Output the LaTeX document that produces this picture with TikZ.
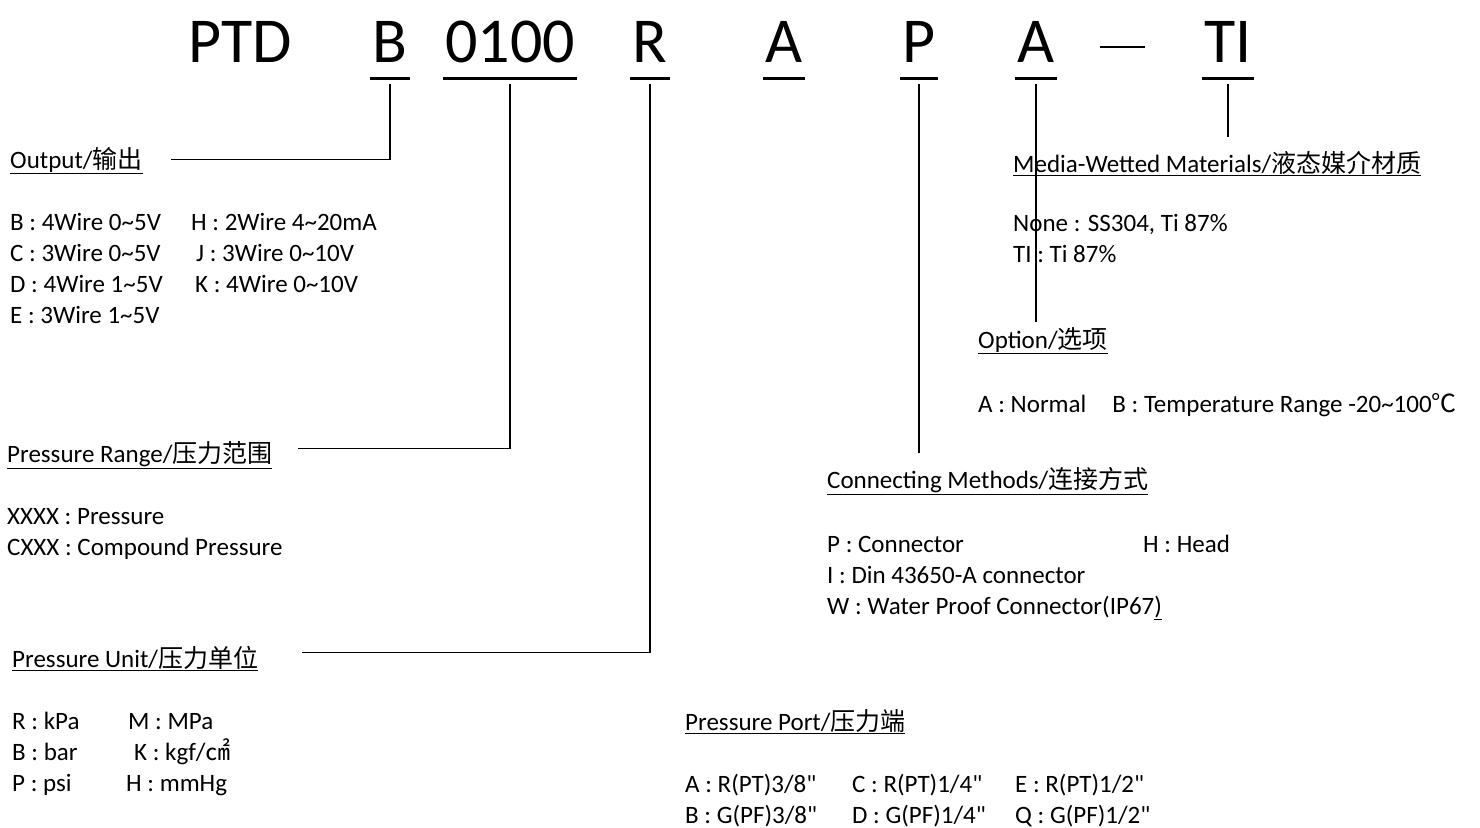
\documentclass[tikz,border=0pt]{standalone}
\usepackage{fontspec}
\setmainfont{Carlito}[Ligatures=TeXOff]
\newfontfamily\cjk{Noto Sans CJK SC}
\usetikzlibrary{positioning,calc}
\newcommand{\tld}{\textasciitilde}

\tikzset{
    code/.style={font=\fontsize{64}{64}\selectfont, anchor=base, inner xsep=2pt, inner ysep=0pt},
    ttl/.style={font=\fontsize{25}{31}\selectfont, anchor=base west, inner sep=0pt},
    txt/.style={font=\fontsize{25}{31}\selectfont, anchor=base west, inner sep=0pt, align=left},
    bar/.style={line width=3pt},
    lead/.style={line width=1.6pt},
}

\begin{document}
\begin{tikzpicture}[x=1pt,y=-1pt]
    \useasboundingbox (0,0) rectangle (1480,827);

    % Model code
    \node[code] (ptd)  at (240,62)  {PTD};
    \node[code] (out)  at (390,62)  {B};
    \node[code] (rng)  at (510,62)  {0100};
    \node[code] (unit) at (650,62)  {R};
    \node[code] (port) at (784,62)  {A};
    \node[code] (conn) at (919,62)  {P};
    \node[code] (opt)  at (1036,62) {A};
    \node[code] (mat)  at (1228,62) {TI};
    \coordinate (dl) at (1100,47);
    \coordinate (dr) at (1145,47);
    \draw[line width=2pt] (dl) -- (dr);

    % Underlines
    \foreach \n in {out,rng,unit,port,conn,opt,mat} {
        \draw[bar] ([yshift=-16pt]\n.base west) -- ([yshift=-16pt]\n.base east);
    }

    % Output (multi-line nodes sit on their last line)
    \node[ttl] (outt) at (10,168) {\underline{Output/{\cjk 输出}}};
    \node[txt] (outa) at (10,323) {B : 4Wire 0\tld5V\\C : 3Wire 0\tld5V\\D : 4Wire 1\tld5V\\E : 3Wire 1\tld5V};
    \node[txt] (outb) at (191,292) {H : 2Wire 4\tld20mA\\\hspace*{5pt}J : 3Wire 0\tld10V\\\hspace*{4pt}K : 4Wire 0\tld10V};

    % Pressure range
    \node[ttl] (rngt) at (7,462) {\underline{Pressure Range/{\cjk 压力范围}}};
    \node[txt] (rnga) at (7,555) {XXXX : Pressure\\CXXX : Compound Pressure};

    % Pressure unit
    \node[ttl] (unitt) at (12,667) {\underline{Pressure Unit/{\cjk 压力单位}}};
    \node[txt] (unita) at (12,791) {R : kPa\\B : bar\\P : psi};
    \node[txt] (unitb) at (128,791) {M : MPa\\\hspace*{6pt}K : kgf/{\cjk ㎠}\\\hspace*{-2pt}H : mmHg};

    % Pressure port
    \node[ttl] (portt) at (685,730) {\underline{Pressure Port/{\cjk 压力端}}};
    \node[txt] (porta) at (685,823) {A : R(PT)3/8"\\B : G(PF)3/8"};
    \node[txt] (portb) at (852,823) {C : R(PT)1/4"\\D : G(PF)1/4"};
    \node[txt] (portc) at (1015,823) {E : R(PT)1/2"\\Q : G(PF)1/2"};

    % Connecting methods
    \node[ttl] (connt) at (827,488) {\underline{Connecting Methods/{\cjk 连接方式}}};
    \node[txt] (conna) at (827,614) {P : Connector\\I : Din 43650-A connector\\W : Water Proof Connector(IP67\underline{)}};
    \node[txt] (connb) at (1143,552) {H : Head};

    % Option
    \node[ttl] (optt) at (978,348) {\underline{Option/{\cjk 选项}}};
    \node[txt] (opta) at (978,412) {A : Normal\hspace{26pt}B : Temperature Range -20\tld100{\cjk ℃}};

    % Media-wetted materials
    \node[ttl] (matt) at (1013,172) {\underline{Media-Wetted Materials/{\cjk 液态媒介材质}}};
    \node[txt] (mata) at (1013,262) {None : SS304, Ti 87\%\\TI : Ti 87\%};

    % Leaders
    \draw[lead] ([yshift=-22pt]out.base) |- ([xshift=28pt,yshift=1pt]outt.east);
    \draw[lead] ([yshift=-22pt]rng.base) |- ([xshift=25pt,yshift=6pt]rngt.east);
    \draw[lead] ([yshift=-22pt]unit.base) |- ([xshift=44pt,yshift=6pt]unitt.east);
    \draw[lead] ([yshift=-22pt]conn.base) -- ([yshift=14pt]connt.north -| conn.base);
    \draw[lead] ([yshift=-22pt]opt.base) -- ([yshift=5pt]optt.north -| opt.base);
    \draw[lead] ([yshift=-22pt]mat.base) -- ([yshift=14pt]matt.north -| mat.base);
\end{tikzpicture}
\end{document}
